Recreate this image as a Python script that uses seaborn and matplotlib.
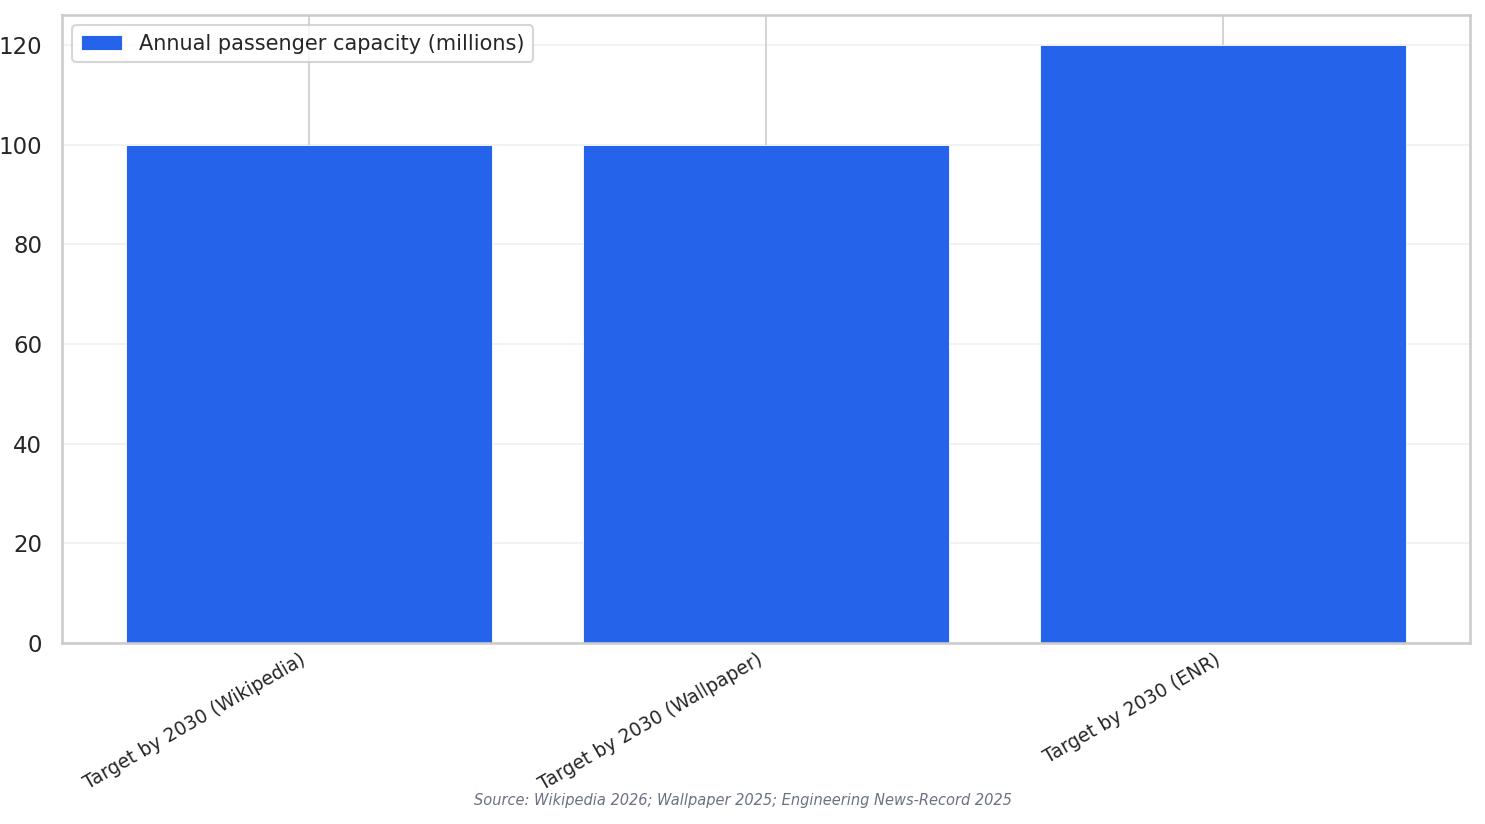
import matplotlib
matplotlib.use("Agg")
import matplotlib.pyplot as plt
import seaborn as sns
import pandas as pd

categories = ["Target by 2030 (Wikipedia)", "Target by 2030 (Wallpaper)", "Target by 2030 (ENR)"]
capacity = [100, 100, 120]
series_label = "Annual passenger capacity (millions)"
source_text = "Source: Wikipedia 2026; Wallpaper 2025; Engineering News-Record 2025"

sns.set_theme(style="whitegrid")
plt.rcParams['font.family'] = ['DejaVu Sans']
plt.rcParams['grid.linewidth'] = 0.8

df = pd.DataFrame({"category": categories, "value": capacity})

fig, ax = plt.subplots(figsize=(9.9, 824 / 150), dpi=150)
fig.subplots_adjust(left=62 / 1485, right=1470 / 1485, top=1 - 15 / 824, bottom=1 - 643 / 824)

sns.barplot(data=df, x="category", y="value", color="#2563eb", saturation=1,
            width=0.8, ax=ax, label=series_label, linewidth=0.4, edgecolor="white")
ax.set_xlabel("")
ax.set_ylabel("")
ax.set_xlim(-0.54, 2.54)
ax.set_ylim(0, 126)
ax.set_yticks([0, 20, 40, 60, 80, 100, 120])
ax.set_axisbelow(True)
ax.xaxis.grid(True, color="#cccccc", linewidth=0.8)
ax.yaxis.grid(True, color="#cccccc", linewidth=0.8, alpha=0.3)
ax.tick_params(axis="x", labelsize=9, length=0, pad=3.5)
ax.tick_params(axis="y", labelsize=11)
plt.setp(ax.get_xticklabels(), rotation=30, ha="right")
ax.legend(loc="upper left", fontsize=10)

fig.text(0.5, 1 - 801 / 824, source_text, ha="center", va="center",
         fontsize=7, style="italic", color="#6b7280")

fig.savefig("out.png", dpi=150)
